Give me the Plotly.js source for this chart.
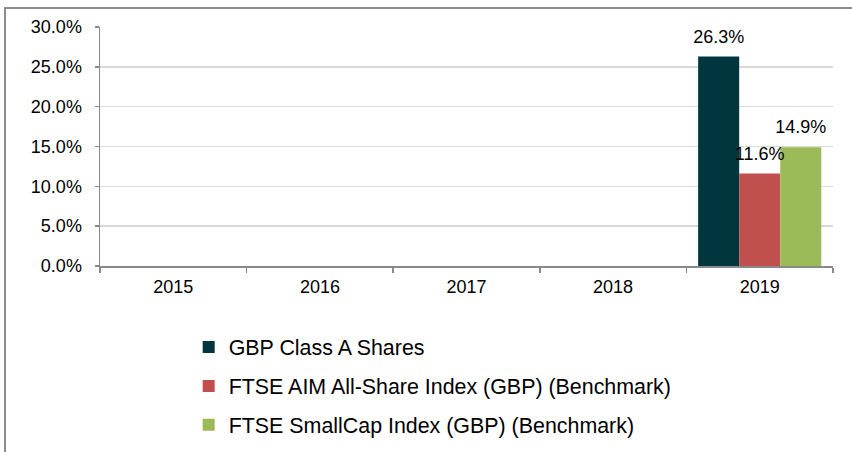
<!DOCTYPE html>
<html>
<head>
<meta charset="utf-8">
<script src="https://cdn.plot.ly/plotly-3.0.1.min.js"></script>
<style>
  html, body { margin: 0; padding: 0; background: #fff; }
  #wrap { position: relative; width: 852px; height: 452px; overflow: hidden; }
  #frame { position: absolute; left: 4px; top: 7px; width: 900px; height: 500px;
           border-left: 2px solid #8c8c8c; border-top: 2px solid #8c8c8c; box-sizing: border-box; }
  #chart { position: absolute; left: 0; top: 0; width: 852px; height: 452px; }
</style>
</head>
<body>
<div id="wrap">
  <div id="frame"></div>
  <div id="chart"></div>
</div>
<script>
const years = ["2015", "2016", "2017", "2018", "2019"];
const seriesNames = [
  "GBP Class A Shares",
  "FTSE AIM All-Share Index (GBP) (Benchmark)",
  "FTSE SmallCap Index (GBP) (Benchmark)"
];
const classA = [null, null, null, null, 0.263];
const aimIndex = [null, null, null, null, 0.116];
const smallCap = [null, null, null, null, 0.149];
const colors = ["#02363F", "#C0504D", "#9BBB59"];
const yTicks = [0, 0.05, 0.10, 0.15, 0.20, 0.25, 0.30];

const FONT = "Liberation Sans, Arial, sans-serif";
const seriesData = [classA, aimIndex, smallCap];

const barTraces = seriesData.map((vals, i) => ({
  type: "bar",
  name: seriesNames[i],
  x: years,
  y: vals,
  marker: { color: colors[i] },
  legendgroup: "g" + i,
  offsetgroup: "o" + i,
  hoverinfo: "skip"
}));

const labelTraces = seriesData.map((vals, i) => ({
  type: "scatter",
  mode: "markers+text",
  x: years,
  y: vals,
  offsetgroup: "o" + i,
  showlegend: false,
  marker: { size: 13.5, opacity: 0, color: colors[i] },
  texttemplate: "%{y:.1%}",
  textposition: "top center",
  cliponaxis: false,
  textfont: { family: FONT, size: 18, color: "#000" },
  hoverinfo: "skip"
}));

const layout = {
  width: 852,
  height: 452,
  paper_bgcolor: "rgba(0,0,0,0)",
  plot_bgcolor: "rgba(0,0,0,0)",
  margin: { l: 100, r: 19, t: 27, b: 186, autoexpand: false },
  barmode: "group",
  bargap: 0.16,
  bargroupgap: 0,
  scattermode: "group",
  scattergap: 0.16,
  font: { family: FONT, size: 18, color: "#000" },
  xaxis: {
    type: "category",
    categoryarray: years,
    showline: true,
    linecolor: "#898989",
    linewidth: 1.5,
    ticks: "outside",
    tickson: "boundaries",
    ticklen: 5,
    tickcolor: "#898989",
    tickwidth: 1.5,
    showgrid: false,
    ticklabelstandoff: 4,
    tickfont: { family: FONT, size: 18, color: "#000" }
  },
  yaxis: {
    range: [0, 0.30],
    tickvals: yTicks,
    tickformat: ".1%",
    showline: true,
    linecolor: "#898989",
    linewidth: 1.5,
    ticks: "outside",
    ticklen: 4,
    tickcolor: "#898989",
    tickwidth: 1.5,
    showgrid: true,
    gridcolor: "#d9d9d9",
    gridwidth: 1.5,
    zeroline: false,
    ticklabelstandoff: 9,
    tickfont: { family: FONT, size: 18, color: "#000" }
  },
  showlegend: true,
  legend: {
    orientation: "v",
    x: 0.121,
    xanchor: "left",
    y: -0.254,
    yanchor: "top",
    traceorder: "grouped",
    tracegroupgap: 8,
    font: { family: FONT, size: 21.4, color: "#000" },
    bgcolor: "rgba(0,0,0,0)"
  }
};

Plotly.newPlot("chart", barTraces.concat(labelTraces), layout, { displayModeBar: false, staticPlot: true });
</script>
</body>
</html>
